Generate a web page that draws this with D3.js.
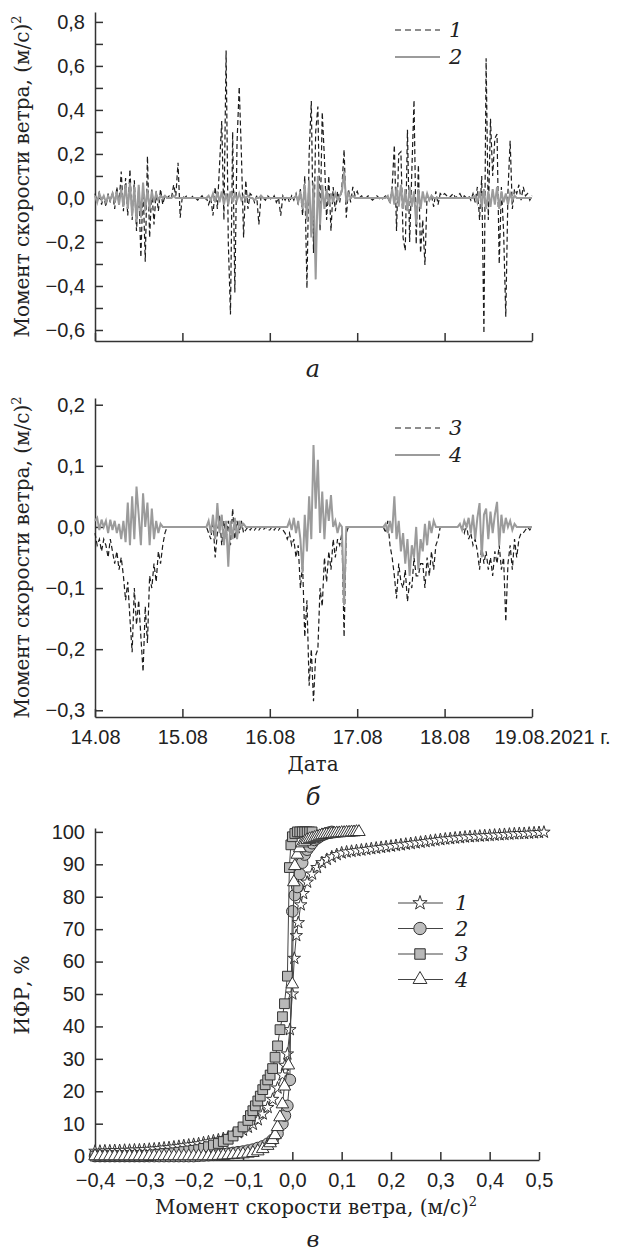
<!DOCTYPE html>
<html lang="ru">
<head>
	<meta charset="UTF-8">
	<title>Момент скорости ветра</title>
	<style>
		body {
			margin: 0;
			background: #fff;
		}
		svg {
			display: block;
			font-family: "DejaVu Serif", serif;
		}
		.tick text {
			font-size: 20px;
			fill: #222;
		}
		.domain, .tick line {
			stroke: #333;
			stroke-width: 1.5;
		}
		.lbl {
			font-size: 20px;
			fill: #222;
		}
		.it {
			font-style: italic;
			fill: #222;
		}
	</style>
</head>
<body>
<svg width="620" height="1256"></svg>
<script src="https://cdnjs.cloudflare.com/ajax/libs/d3/7.8.5/d3.min.js"></script>
<script>
	// time series sampled every 1/40 day, from 14.08 00:00 to 19.08 00:00
	const step = 1 / 40;
	const dayTicks = [0, 1, 2, 3, 4, 5];
	const dateLabels = ['14.08', '15.08', '16.08', '17.08', '18.08', '19.08.2021 г.'];

	const ticksA = [-0.6, -0.5, -0.4, -0.3, -0.2, -0.1, 0, 0.1, 0.2, 0.3, 0.4, 0.5, 0.6, 0.7, 0.8];
	const ticksB = [-0.3, -0.2, -0.1, 0, 0.1, 0.2];
	const ticksCx = [-0.4, -0.3, -0.2, -0.1, 0, 0.1, 0.2, 0.3, 0.4, 0.5];
	const ticksCy = [0, 10, 20, 30, 40, 50, 60, 70, 80, 90, 100];

	// panel a: series 1 (dashed) and 2 (grey)
	const s1 = [
		0.02,-0.02,0.03,-0.03,0.01,-0.04,0.02,-0.02,0.03,-0.05, 0.05,-0.03,0.12,-0.06,0.09,-0.08,0.13,-0.1,0.08,-0.15,
		0.05,-0.27,0.06,-0.29,0.19,-0.18,0.04,-0.12,0.03,-0.06, 0.04,-0.03,0.01,0,0.01,0,0.06,0.01,0.16,-0.09,
		0.01,0,0.01,0,0,0.01,0,-0.01,0,0.01, -0.01,0,-0.03,0,-0.08,0.05,-0.05,0.15,0.35,-0.1,
		0.67,-0.2,-0.53,0.3,-0.43,0.25,0.505,0.2,-0.18,0.08, -0.05,0.02,0.01,-0.02,0.01,-0.12,0.01,0,-0.01,0.01,
		0,-0.01,0.01,-0.02,0,-0.08,0.01,-0.01,0.01,-0.02, 0.01,-0.01,0.02,-0.03,0.04,-0.08,0.1,-0.41,0.2,0.44,
		-0.25,0.3,0.415,-0.15,0.39,0.18,-0.1,0.1,-0.15,0.05, -0.06,0.03,-0.02,0.05,0.22,-0.09,0.04,-0.02,0.05,0.01,
		0.03,0,0.01,0,0,0.01,0,-0.01,0,0.01, 0,-0.01,0,0.01,0,-0.02,0.05,0.24,-0.15,0.2,
		0.21,-0.18,-0.24,0.31,-0.2,0.12,0.445,-0.21,0.15,-0.25, -0.1,-0.305,0.02,-0.01,0.01,-0.04,0.03,-0.03,0.02,0.01,
		0.02,0.01,0,0.01,0.02,0,0.01,0.02,0,0.01, 0,0.01,-0.01,0.02,-0.02,0.05,-0.1,0.1,-0.615,0.635,
		-0.1,0.36,0.1,0.27,0.29,-0.3,0.05,-0.15,-0.54,0.03, 0.26,-0.05,0.04,0.02,0.06,-0.01,0.05,0.01,0.02,-0.01,
		0.01
	];
	const s2 = [
		0.01,-0.02,0.02,-0.01,0.01,-0.02,0.01,-0.01,0.02,-0.02, 0.03,-0.03,0.04,-0.04,0.06,-0.05,0.07,-0.08,0.05,-0.11,
		0.06,-0.09,0.07,-0.06,0.04,-0.05,0.03,-0.02,0.02,-0.01, 0.01,0,0.01,0,0,0,0.01,0,0,0,
		0,0,0,0,0,0,0,0,0,0, 0,0,0.01,-0.01,0.02,-0.02,0.03,-0.02,0.03,-0.03,
		0.02,-0.03,0.03,-0.02,0.02,-0.01,0.02,-0.01,0.01,0, 0.01,0,0,-0.01,0,0,0.01,0,0,0,
		0,0,0,0,0,0,0,0,0,0, 0,0,0.01,-0.02,0.03,-0.05,0.06,-0.1,0.08,-0.18,
		0.07,-0.37,0.1,-0.12,0.06,-0.05,0.04,-0.03,0.02,-0.02, 0.02,-0.01,0.01,0.03,0.12,-0.02,0.02,0,0.01,0,
		0,0,0,0,0,0,0,0,0,0, 0,0,0,0,0.01,-0.02,0.04,-0.03,0.05,-0.04,
		0.06,-0.05,0.04,-0.06,0.05,-0.04,0.03,-0.12,0.04,-0.05, 0.03,-0.02,0.02,-0.01,0.01,0,0,0,0,0,
		0,0,0,0,0,0,0,0,0,0, 0,0,0,0,0.01,-0.02,0.03,-0.04,0.04,-0.05,
		0.03,-0.04,0.04,-0.03,0.05,-0.05,0.03,-0.02,0.02,-0.03, 0.02,-0.01,0.01,0,0,0,0,0,0,0,
		0
	];

	// panel b: series 3 (dashed) and 4 (grey)
	const s3 = [
		-0.01,-0.03,-0.02,-0.04,-0.02,-0.03,-0.05,-0.02,-0.04,-0.06, -0.04,-0.07,-0.05,-0.08,-0.12,-0.09,-0.15,-0.205,-0.1,-0.16,
		-0.12,-0.18,-0.237,-0.13,-0.19,-0.08,-0.1,-0.06,-0.09,-0.04, -0.06,-0.03,-0.01,0,0,0,0,0,0,0,
		0,0,0,0,0,0,0,0,0,0, 0,0,-0.01,-0.02,0.01,-0.05,-0.01,0.02,-0.03,0.01,
		-0.02,0.01,-0.03,0.03,-0.02,0.01,-0.01,0.01,-0.01,-0.005, 0,-0.005,0,-0.005,0,-0.005,0,-0.005,0,-0.005,
		-0.005,0,-0.005,0,-0.005,0,-0.005,-0.01,-0.02,-0.01, -0.03,-0.02,-0.05,-0.03,-0.1,-0.06,-0.18,-0.12,-0.26,-0.2,
		-0.285,-0.21,-0.2,-0.1,-0.13,-0.05,-0.09,-0.04,-0.07,-0.02, -0.05,-0.02,-0.03,-0.01,-0.18,-0.01,0,0,0,0,
		0,0,0,0,0,0,0,0,0,0, 0,0,0,-0.01,0.01,-0.03,-0.05,-0.08,-0.117,-0.06,
		-0.09,-0.1,-0.07,-0.122,-0.09,-0.1,-0.05,-0.08,-0.08,-0.06, -0.06,-0.1,-0.05,-0.08,-0.04,-0.07,-0.03,-0.02,0,0,
		0,0,0,0,0,0,0,0,0,-0.01, 0.005,-0.02,-0.01,-0.03,-0.02,-0.04,-0.07,-0.03,-0.06,-0.04,
		-0.07,-0.05,-0.08,-0.04,-0.06,-0.03,-0.07,-0.05,-0.155,-0.06, -0.03,-0.07,-0.02,-0.05,-0.02,-0.01,-0.01,-0.005,0,-0.005,
		0
	];
	const s4 = [
		0.01,0.015,-0.005,0.012,0,0.01,-0.01,0.012,-0.005,0.01, -0.01,0.005,-0.02,0.01,-0.025,0.04,-0.03,0.05,-0.02,0.066,
		0.02,-0.03,0.055,0,0.04,-0.03,0.03,-0.02,0.01,-0.01, 0.005,0,0,0,0,0,0,0,0,0,
		0,0,0,0,0,0,0,0,0,0, 0,0,0.01,-0.01,0.02,-0.02,0.039,-0.01,0.02,-0.03,
		0.01,-0.065,0.01,-0.02,0.015,-0.02,0.01,0,0.005,0, 0,0,0,0,0,0,0,0,0,0,
		0,0,0,0,0,0,0,0,0,0.01, -0.005,0.015,-0.01,0.01,-0.02,-0.075,0.02,-0.04,0.05,-0.02,
		0.134,0.03,0.11,-0.01,0.058,-0.02,0.045,0.01,0.052,0, 0.01,-0.01,0.005,0,-0.128,0,0,0,0,0,
		0,0,0,0,0,0,0,0,0,0, 0,0,0,0.005,-0.01,0.01,-0.01,0.05,-0.02,0.01,
		-0.04,-0.01,-0.06,-0.02,-0.08,-0.03,-0.05,0,-0.07,-0.02, -0.04,0.005,-0.03,0.01,-0.01,0.01,0,0,0,0,
		0,0,0,0,0,0,0,0.005,-0.005,0.01, 0,0.015,-0.01,0.02,-0.02,0.015,0.039,-0.05,0.02,0.03,
		-0.02,0.025,-0.01,0.02,0.041,-0.03,0.02,-0.01,0.015,0, 0.01,-0.005,0.005,0,0,0,0,0,0,0,
		0
	];

	// panel c: cumulative distribution, [moment, %]
	const cdf1 = [
		[-0.40,1.5],[-0.39,1.5],[-0.38,1.6],[-0.37,1.6],[-0.36,1.7],[-0.35,1.7],[-0.34,1.8],[-0.33,1.8],[-0.32,1.9],[-0.31,1.9],
		[-0.30,2.0],[-0.29,2.1],[-0.28,2.2],[-0.27,2.3],[-0.26,2.5],[-0.25,2.6],[-0.24,2.8],[-0.23,3.0],[-0.22,3.2],[-0.21,3.4],
		[-0.20,3.6],[-0.19,3.8],[-0.18,4.1],[-0.17,4.4],[-0.16,4.7],[-0.15,5.0],[-0.14,5.4],[-0.13,5.9],[-0.12,6.5],[-0.11,7.2],
		[-0.10,8.0],[-0.09,8.9],[-0.08,9.8],[-0.07,11.2],[-0.06,13],[-0.05,15],[-0.04,17.5],[-0.03,21],[-0.02,25],[-0.015,28],
		[-0.01,31.5],[-0.005,39],[0,50],[0.004,61],[0.008,68],[0.012,72],[0.017,77.5],[0.022,81],[0.03,84.5],[0.04,87],
		[0.05,89],[0.06,90.5],[0.07,91.5],[0.08,92.3],[0.09,93],[0.10,93.5],[0.11,93.8],[0.12,94],[0.13,94.2],[0.14,94.4],
		[0.15,94.6],[0.16,94.8],[0.17,95],[0.18,95.2],[0.19,95.4],[0.20,95.6],[0.21,95.8],[0.22,96],[0.23,96.2],[0.24,96.4],
		[0.25,96.6],[0.26,96.8],[0.27,97],[0.28,97.2],[0.29,97.4],[0.30,97.6],[0.31,97.8],[0.32,97.9],[0.33,98.1],[0.34,98.2],
		[0.35,98.4],[0.36,98.5],[0.37,98.6],[0.38,98.7],[0.39,98.8],[0.40,98.9],[0.41,99],[0.42,99.1],[0.43,99.2],[0.44,99.3],
		[0.45,99.4],[0.46,99.5],[0.47,99.5],[0.48,99.6],[0.49,99.7],[0.50,99.8],[0.51,99.9]
	];
	const cdf2 = [
		[-0.40,0],[-0.39,0],[-0.38,0],[-0.37,0],[-0.36,0],[-0.35,0],[-0.34,0],[-0.33,0],[-0.32,0],[-0.31,0],
		[-0.30,0],[-0.29,0],[-0.28,0],[-0.27,0],[-0.26,0],[-0.25,0],[-0.24,0],[-0.23,0],[-0.22,0],[-0.21,0],
		[-0.20,0],[-0.19,0.1],[-0.18,0.2],[-0.17,0.3],[-0.16,0.4],[-0.15,0.5],[-0.14,0.6],[-0.13,0.8],[-0.12,1.0],[-0.11,1.2],
		[-0.10,1.4],[-0.09,1.7],[-0.08,2.0],[-0.07,2.5],[-0.06,3.0],[-0.05,3.8],[-0.04,5],[-0.03,7],[-0.02,10],[-0.015,12.5],
		[-0.01,15.5],[-0.005,23.5],[0,75.5],[0.005,80.5],[0.01,83],[0.015,87],[0.02,90.5],[0.025,93],[0.03,94.5],[0.035,95.5],
		[0.04,96.5],[0.045,97.5],[0.05,98],[0.055,98.5],[0.06,99],[0.065,99.3],[0.07,99.6],[0.075,99.8],[0.08,100]
	];
	const cdf3 = [
		[-0.40,0],[-0.39,0],[-0.38,0],[-0.37,0],[-0.36,0],[-0.35,0],[-0.34,0],[-0.33,0],[-0.32,0],[-0.31,0],
		[-0.30,0],[-0.29,0.2],[-0.28,0.4],[-0.27,0.6],[-0.26,0.8],[-0.25,0.9],[-0.24,1.0],[-0.23,1.2],[-0.22,1.4],[-0.21,1.6],
		[-0.20,1.8],[-0.19,2.0],[-0.18,2.4],[-0.17,2.9],[-0.16,3.4],[-0.15,3.9],[-0.14,4.5],[-0.13,5.2],[-0.12,6.2],[-0.11,7.5],
		[-0.10,9.0],[-0.09,11],[-0.085,12.5],[-0.08,14],[-0.075,15.5],[-0.07,17],[-0.065,18.5],[-0.06,20.5],[-0.055,22],[-0.05,23.5],
		[-0.045,25],[-0.04,27],[-0.035,30.5],[-0.03,34],[-0.025,39],[-0.02,43],[-0.016,47],[-0.01,55.5],[-0.006,89],[-0.003,96],
		[0,98.5],[0.005,99.5],[0.01,100],[0.015,100],[0.02,100],[0.025,100],[0.03,100],[0.035,100],[0.04,100]
	];
	const cdf4 = [
		[-0.40,0],[-0.39,0],[-0.38,0],[-0.37,0],[-0.36,0],[-0.35,0],[-0.34,0],[-0.33,0],[-0.32,0],[-0.31,0],
		[-0.30,0],[-0.29,0],[-0.28,0],[-0.27,0],[-0.26,0],[-0.25,0],[-0.24,0],[-0.23,0],[-0.22,0],[-0.21,0],
		[-0.20,0],[-0.19,0],[-0.18,0],[-0.17,0],[-0.16,0],[-0.15,0.1],[-0.14,0.2],[-0.13,0.3],[-0.12,0.4],[-0.11,0.5],
		[-0.10,0.6],[-0.09,0.8],[-0.08,1.0],[-0.07,1.5],[-0.06,2.2],[-0.05,3.2],[-0.045,4],[-0.04,5],[-0.035,6.5],[-0.03,9],
		[-0.025,12],[-0.02,16],[-0.016,21.5],[-0.008,28],[0,53],[0.003,84.5],[0.005,89.5],[0.01,93],[0.015,95],[0.02,96.5],
		[0.025,97],[0.03,97.5],[0.035,97.8],[0.04,98],[0.045,98.2],[0.05,98.5],[0.055,98.7],[0.06,99],[0.065,99.1],[0.07,99.2],
		[0.075,99.3],[0.08,99.4],[0.085,99.5],[0.09,99.6],[0.095,99.6],[0.10,99.7],[0.105,99.7],[0.11,99.8],[0.115,99.8],[0.12,99.9],
		[0.125,99.9],[0.13,100],[0.135,100]
	];

	const svg = d3.select('svg');
	const ru = d3.formatLocale({decimal: ',', thousands: ' ', grouping: [3], currency: ['', ''], minus: '\u2212'});
	const fmt1 = ru.format('.1f');

	function addTitle(g, x, y, rotate) {
		return g.append('text')
			.attr('class', 'lbl')
			.attr('text-anchor', 'middle')
			.attr('transform', `translate(${x},${y})` + (rotate ? ' rotate(-90)' : ''));
	}

	function momentLabel(t) {
		t.append('tspan').text('Момент скорости ветра, (м/с)');
		t.append('tspan').attr('dy', -8).attr('font-size', 13).text('2');
	}

	function timePanel(opt) {
		const x = d3.scaleLinear().domain([0, 5]).range([95, 532]);
		const y = d3.scaleLinear().domain(opt.yDomain).range(opt.yRange);
		const g = svg.append('g');

		const xAxis = d3.axisBottom(x)
			.tickValues(dayTicks)
			.tickSize(-8)
			.tickSizeOuter(0)
			.tickPadding(13)
			.tickFormat(opt.dates ? (d, i) => dateLabels[i] : '');
		const gx = g.append('g')
			.attr('transform', `translate(0,${opt.yRange[0]})`)
			.call(xAxis);
		if (opt.dates) {
			gx.selectAll('.tick:last-of-type text')
				.attr('text-anchor', 'start')
				.attr('x', -38);
		}

		g.append('g')
			.attr('transform', 'translate(95,0)')
			.call(d3.axisLeft(y)
				.tickValues(opt.yTicks)
				.tickSize(-8)
				.tickSizeOuter(0)
				.tickPadding(10)
				.tickFormat(opt.yFormat));

		const line = d3.line()
			.x((d, i) => x(i * step))
			.y(d => y(d));

		g.append('path')
			.datum(opt.dashed)
			.attr('d', line)
			.attr('fill', 'none')
			.attr('stroke', '#1c1c1c')
			.attr('stroke-width', 1.2)
			.attr('stroke-dasharray', '5,3');
		g.append('path')
			.datum(opt.solid)
			.attr('d', line)
			.attr('fill', 'none')
			.attr('stroke', '#9b9b9b')
			.attr('stroke-width', 2);

		// legend
		const lg = g.append('g');
		opt.names.forEach((name, i) => {
			const ly = opt.legendY + i * 27;
			lg.append('line')
				.attr('x1', 395).attr('x2', 440)
				.attr('y1', ly).attr('y2', ly)
				.attr('stroke', i === 0 ? '#1c1c1c' : '#9b9b9b')
				.attr('stroke-width', i === 0 ? 1.2 : 2)
				.attr('stroke-dasharray', i === 0 ? '6,4' : null);
			lg.append('text')
				.attr('class', 'it')
				.attr('x', 449).attr('y', ly + 7)
				.attr('font-size', 21)
				.text(name);
		});

		momentLabel(addTitle(g, 29, (opt.yRange[0] + opt.yRange[1]) / 2, true));
		return g;
	}

	// panel a
	timePanel({
		yDomain: [-0.65, 0.845],
		yRange: [341, 12],
		yTicks: ticksA,
		yFormat: d => Math.round(d * 10) % 2 === 0 ? fmt1(d) : '',
		dashed: s1,
		solid: s2,
		names: ['1', '2'],
		legendY: 30,
		dates: false
	});
	svg.append('text').attr('class', 'it').attr('font-size', 24)
		.attr('x', 313).attr('y', 377).attr('text-anchor', 'middle').text('а');

	// panel b
	timePanel({
		yDomain: [-0.311, 0.211],
		yRange: [717, 398],
		yTicks: ticksB,
		yFormat: fmt1,
		dashed: s3,
		solid: s4,
		names: ['3', '4'],
		legendY: 428,
		dates: true
	});
	addTitle(svg, 313, 771).text('Дата');
	svg.append('text').attr('class', 'it').attr('font-size', 24)
		.attr('x', 313).attr('y', 805).attr('text-anchor', 'middle').text('б');

	// panel c
	const xc = d3.scaleLinear().domain([-0.4, 0.5]).range([95, 539]);
	const yc = d3.scaleLinear().domain([-1.2, 101.2]).range([1160, 828]);
	const gc = svg.append('g');

	gc.append('g')
		.attr('transform', 'translate(0,1160)')
		.call(d3.axisBottom(xc)
			.tickValues(ticksCx)
			.tickSize(-8)
			.tickSizeOuter(0)
			.tickPadding(13)
			.tickFormat(fmt1));
	gc.append('g')
		.attr('transform', 'translate(95,0)')
		.call(d3.axisLeft(yc)
			.tickValues(ticksCy)
			.tickSize(-8)
			.tickSizeOuter(0)
			.tickPadding(10)
			.tickFormat(d3.format('d')));

	const cdfSeries = [
		{name: '1', data: cdf1, symbol: d3.symbolStar, size: 48, fill: '#fff'},
		{name: '2', data: cdf2, symbol: d3.symbolCircle, size: 105, fill: '#bdbdbd'},
		{name: '3', data: cdf3, symbol: d3.symbolSquare, size: 95, fill: '#b8b8b8'},
		{name: '4', data: cdf4, symbol: d3.symbolTriangle, size: 68, fill: '#fff'}
	];

	const cline = d3.line().x(d => xc(d[0])).y(d => yc(d[1]));
	cdfSeries.forEach(s => {
		gc.append('path')
			.datum(s.data)
			.attr('d', cline)
			.attr('fill', 'none')
			.attr('stroke', '#444')
			.attr('stroke-width', 1);
		gc.append('g').selectAll('path')
			.data(s.data)
			.join('path')
			.attr('transform', d => `translate(${xc(d[0])},${yc(d[1])})`)
			.attr('d', d3.symbol(s.symbol, s.size))
			.attr('fill', s.fill)
			.attr('stroke', '#333')
			.attr('stroke-width', 1);
	});

	// legend c
	cdfSeries.forEach((s, i) => {
		const ly = 903 + i * 25.5;
		gc.append('line')
			.attr('x1', 398).attr('x2', 443)
			.attr('y1', ly).attr('y2', ly)
			.attr('stroke', '#444').attr('stroke-width', 1);
		gc.append('path')
			.attr('transform', `translate(420,${ly})`)
			.attr('d', d3.symbol(s.symbol, s.size + 15))
			.attr('fill', s.fill)
			.attr('stroke', '#333');
		gc.append('text')
			.attr('class', 'it')
			.attr('x', 455).attr('y', ly + 7)
			.attr('font-size', 21)
			.text(s.name);
	});

	addTitle(svg, 29, 995, true).text('ИФР, %');
	momentLabel(addTitle(svg, 316, 1214));
	svg.append('text').attr('class', 'it').attr('font-size', 22)
		.attr('x', 313).attr('y', 1247).attr('text-anchor', 'middle').text('в');
</script>
</body>
</html>
